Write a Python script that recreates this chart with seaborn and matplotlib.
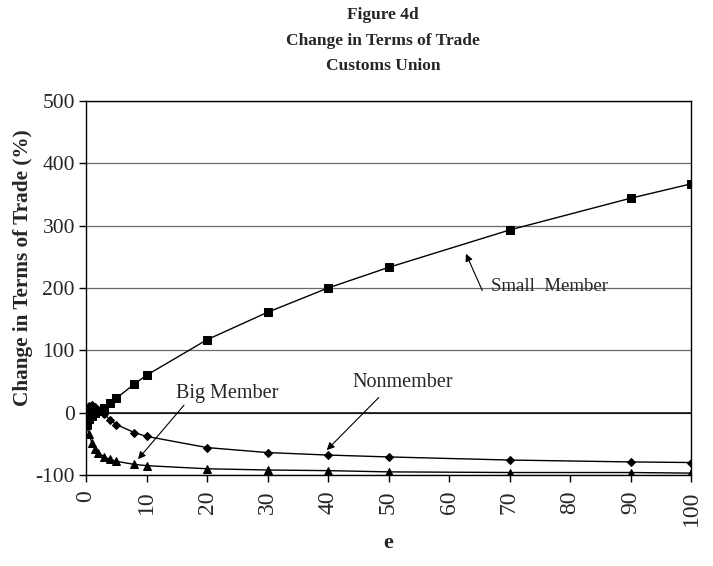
import numpy as np
import pandas as pd
import matplotlib
matplotlib.use('Agg')
import matplotlib.pyplot as plt
import seaborn as sns

# values
e_values = [0.1, 0.5, 1, 1.5, 2, 3, 4, 5, 8, 10, 20, 30, 40, 50, 70, 90, 100]
small_member = [-18, -10, -5, -1, 2, 7, 15, 23, 46, 60, 117, 161, 200, 233, 293, 344, 367]
nonmember = [5, 11, 12, 9, 5, -2, -12, -19, -32, -38, -56, -64, -68, -71, -76, -79, -80]
big_member = [-20, -35, -49, -58, -64, -71, -75, -78, -83, -85, -90, -92, -93, -95, -96, -96, -97]

y_ticks = [-100, 0, 100, 200, 300, 400, 500]
x_ticks = [0, 10, 20, 30, 40, 50, 60, 70, 80, 90, 100]

sns.set_theme(style='white')
plt.rcParams['font.family'] = ['Liberation Serif', 'DejaVu Serif']

fig = plt.figure(figsize=(7.13, 5.66), dpi=100)
ax = fig.add_axes([86/713, 1 - 475/566, 605/713, 374/566])

ax.grid(axis='y', color='#6a6a6a', linewidth=0.9)
ax.grid(axis='x', visible=False)
ax.axhline(0, color='black', linewidth=1.1, zorder=1.5)

line_kw = dict(color='black', linewidth=1.0, markeredgecolor='black',
               estimator=None, ax=ax, zorder=3)
sns.lineplot(x=e_values, y=small_member, marker='s', markersize=5.5, **line_kw)
sns.lineplot(x=e_values, y=nonmember, marker='D', markersize=4.5, **line_kw)
sns.lineplot(x=e_values, y=big_member, marker='^', markersize=5.5, **line_kw)

ax.set_xlim(0, 100)
ax.set_ylim(-100, 500)
ax.set_xticks(x_ticks)
ax.set_yticks(y_ticks)
ax.set_xticklabels([str(t) for t in x_ticks], rotation=90, fontsize=17)
ax.set_yticklabels([str(t) for t in y_ticks], fontsize=15.5)
ax.tick_params(axis='both', direction='out', length=5, width=1, color='black',
               bottom=True, left=True, pad=3)
ax.tick_params(axis='x', pad=6)

for side in ['left', 'right', 'top', 'bottom']:
    ax.spines[side].set_visible(True)
    ax.spines[side].set_color('black')
    ax.spines[side].set_linewidth(1.0)

ax.set_ylabel('Change in Terms of Trade (%)', fontsize=15.3, fontweight='bold')
ax.yaxis.set_label_coords(-0.088, 0.553)
ax.set_xlabel('e', fontsize=16, fontweight='bold')
ax.xaxis.set_label_coords(0.5, -0.155)

fig.text(383/713, 1 - 15/566, 'Figure 4d', ha='center', va='center',
         fontsize=12.5, fontweight='bold')
fig.text(383/713, 1 - 41/566, 'Change in Terms of Trade', ha='center', va='center',
         fontsize=12.5, fontweight='bold')
fig.text(383/713, 1 - 66/566, 'Customs Union', ha='center', va='center',
         fontsize=12.5, fontweight='bold')

arrow = dict(arrowstyle='-|>', color='black', lw=0.8, mutation_scale=11,
             shrinkA=0, shrinkB=0)
ax.annotate('', xy=(62.8, 255), xytext=(65.5, 196), arrowprops=arrow)
ax.text(76.6, 203, 'Small  Member', ha='center', va='center', fontsize=13.5)

ax.annotate('', xy=(8.6, -74.6), xytext=(16.2, 12), arrowprops=arrow)
ax.text(23.3, 31, 'Big Member', ha='center', va='center', fontsize=14.5)

ax.annotate('', xy=(39.8, -60), xytext=(48.4, 24.4), arrowprops=arrow)
ax.text(52.4, 49, 'Nonmember', ha='center', va='center', fontsize=14.5)

plt.savefig('out.png', dpi=100)
plt.close()
